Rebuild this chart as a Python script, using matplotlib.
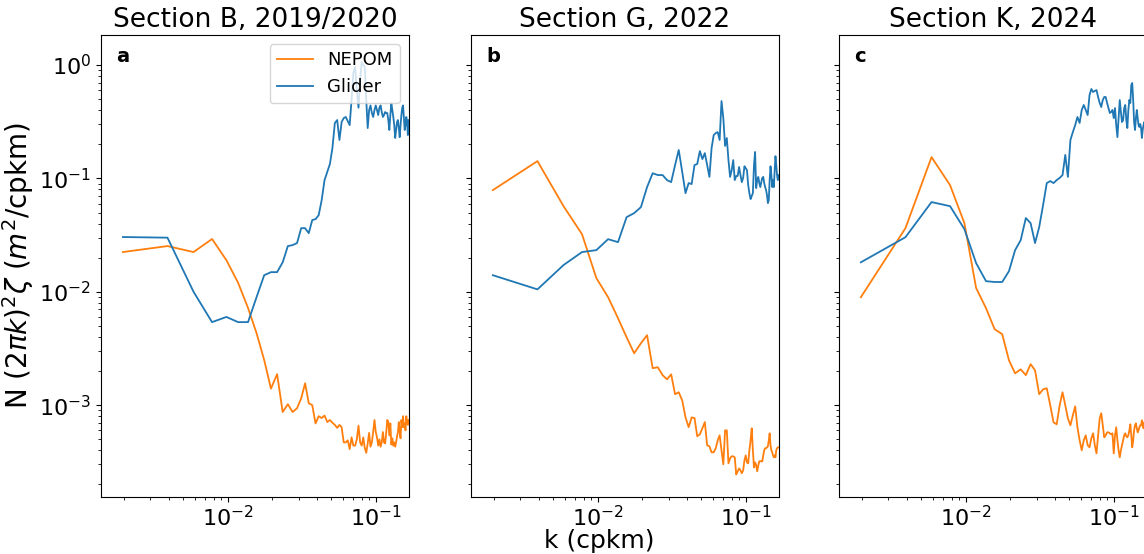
import numpy as np
import matplotlib
matplotlib.use('Agg')
import matplotlib.pyplot as plt

# wavenumber grid (cpkm), spectral spacing 1/512
k = np.arange(1, 86) / 512

tytuly = ['Section B, 2019/2020', 'Section G, 2022', 'Section K, 2024']
litery = ['a', 'b', 'c']

# Sekcja B
nepom_b = [0.0224, 0.0253, 0.0224, 0.0292, 0.019, 0.012, 0.0072, 0.0043, 0.0025, 0.0014,
           0.00188, 0.00087, 0.00102, 0.00087, 0.00094, 0.00115, 0.00156, 0.00104, 0.0010, 0.00069,
           0.0008, 0.00077, 0.00081, 0.00071, 0.00074, 0.0007, 0.00067, 0.00063, 0.00067, 0.00064,
           0.00047, 0.00047, 0.00049, 0.00041, 0.00052, 0.00044, 0.00044, 0.0005, 0.00066, 0.00047,
           0.00044, 0.00052, 0.00042, 0.00038, 0.00046, 0.00057, 0.00043, 0.00047, 0.00058, 0.00074,
           0.00058, 0.00052, 0.00044, 0.0005, 0.00043, 0.00047, 0.00058, 0.00047, 0.00046, 0.00057,
           0.00074, 0.00071, 0.00054, 0.00069, 0.00045, 0.00051, 0.00044, 0.00047, 0.00043, 0.00047,
           0.00053, 0.00058, 0.00071, 0.00058, 0.00051, 0.00074, 0.00064, 0.0008, 0.00064, 0.00069,
           0.0006, 0.0008, 0.00071, 0.00067, 0.00074]
glider_b = [0.0304, 0.0300, 0.010, 0.0054, 0.0060, 0.0054, 0.0054, 0.0090, 0.014, 0.0149,
            0.0149, 0.0182, 0.0253, 0.0258, 0.0269, 0.0364, 0.0364, 0.0329, 0.0429, 0.0437,
            0.0474, 0.0643, 0.0966, 0.114, 0.134, 0.185, 0.308, 0.327, 0.218, 0.314,
            0.34, 0.348, 0.32, 0.295, 0.49, 0.85, 0.96, 0.60, 0.42, 0.74,
            1.06, 1.0, 0.96, 0.49, 0.278, 0.40, 0.44, 0.377, 0.348, 0.40,
            0.44, 0.40, 0.362, 0.42, 0.44, 0.385, 0.348, 0.362, 0.385, 0.377,
            0.377, 0.327, 0.267, 0.362, 0.46, 0.40, 0.348, 0.295, 0.227, 0.267,
            0.314, 0.327, 0.278, 0.231, 0.295, 0.362, 0.42, 0.44, 0.34, 0.267,
            0.295, 0.348, 0.314, 0.241, 0.327]

# Sekcja G
nepom_g = [0.0788, 0.142, 0.0569, 0.0322, 0.0132, 0.00896, 0.00585, 0.00397, 0.00287, 0.00352,
           0.00414, 0.00212, 0.00216, 0.00184, 0.00169, 0.00187, 0.00125, 0.0013, 0.0011, 0.00078,
           0.00064, 0.00078, 0.00077, 0.000532, 0.000553, 0.000625, 0.00071, 0.000443, 0.000434, 0.000384,
           0.000384, 0.000417, 0.00049, 0.000542, 0.0004, 0.000301, 0.0006, 0.0006, 0.000307, 0.00034,
           0.000354, 0.000354, 0.000347, 0.000245, 0.000261, 0.000277, 0.000266, 0.000251, 0.000266, 0.000326,
           0.000361, 0.000313, 0.000307, 0.0004, 0.00049, 0.000625, 0.0004, 0.000283, 0.000313, 0.000295,
           0.000261, 0.000295, 0.00032, 0.00032, 0.00032, 0.00032, 0.000361, 0.0004, 0.000417, 0.000417,
           0.000425, 0.000434, 0.00049, 0.000565, 0.000443, 0.0004, 0.000384, 0.000361, 0.000347, 0.000361,
           0.000347, 0.0004, 0.000417, 0.000425, 0.000425]
glider_g = [0.0140, 0.0105, 0.0172, 0.0224, 0.0233, 0.0291, 0.0274, 0.0455, 0.0494, 0.0558,
            0.0838, 0.111, 0.107, 0.107, 0.0966, 0.0927, 0.131, 0.178, 0.114, 0.0741,
            0.0909, 0.0891, 0.131, 0.134, 0.174, 0.148, 0.167, 0.131, 0.103, 0.185,
            0.241, 0.251, 0.256, 0.218, 0.481, 0.34, 0.193, 0.227, 0.145, 0.103,
            0.118, 0.145, 0.0966, 0.105, 0.105, 0.126, 0.107, 0.0927, 0.101, 0.128,
            0.123, 0.118, 0.0873, 0.0741, 0.0657, 0.0698, 0.0741, 0.131, 0.171, 0.0821,
            0.0966, 0.103, 0.0909, 0.0838, 0.0927, 0.101, 0.103, 0.0909, 0.0838, 0.0788,
            0.0712, 0.0605, 0.0643, 0.0966, 0.128, 0.107, 0.0838, 0.0966, 0.0838, 0.118,
            0.157, 0.131, 0.107, 0.0966, 0.107]

# Sekcja K
nepom_k = [0.00896, 0.0364, 0.154, 0.0873, 0.0403, 0.0108, 0.00716, 0.00468, 0.00423, 0.00249,
           0.00191, 0.00207, 0.00184, 0.0023, 0.00203, 0.00125, 0.00138, 0.00141, 0.000998, 0.000706,
           0.000678, 0.000998, 0.0013, 0.000998, 0.000766, 0.000665, 0.000815, 0.000977, 0.000638, 0.00049,
           0.0004, 0.00049, 0.000542, 0.000443, 0.000425, 0.000511, 0.000565, 0.000443, 0.000376, 0.000542,
           0.000766, 0.000849, 0.000665, 0.000521, 0.000542, 0.000576, 0.000576, 0.000565, 0.000553, 0.000565,
           0.000376, 0.000542, 0.000638, 0.00049, 0.0004, 0.000347, 0.0004, 0.000443, 0.00049, 0.000542,
           0.000565, 0.000532, 0.000521, 0.000542, 0.0006, 0.000678, 0.000542, 0.000425, 0.00049, 0.0006,
           0.000665, 0.000692, 0.000625, 0.000576, 0.0006, 0.000638, 0.000665, 0.000665, 0.000736, 0.000678,
           0.000625, 0.000706, 0.000652, 0.000678, 0.000665]
glider_k = [0.0182, 0.0303, 0.0618, 0.0569, 0.0357, 0.0179, 0.0124, 0.0122, 0.0122, 0.0152,
            0.0233, 0.0285, 0.0447, 0.0403, 0.0269, 0.0372, 0.0581, 0.0909, 0.0947, 0.0909,
            0.0966, 0.101, 0.107, 0.161, 0.103, 0.218, 0.256, 0.295, 0.348, 0.308,
            0.401, 0.444, 0.401, 0.362, 0.543, 0.614, 0.578, 0.59, 0.601, 0.522,
            0.462, 0.426, 0.491, 0.522, 0.522, 0.462, 0.417, 0.377, 0.385, 0.401,
            0.340, 0.417, 0.295, 0.231, 0.340, 0.491, 0.385, 0.314, 0.327, 0.417,
            0.444, 0.327, 0.278, 0.401, 0.491, 0.462, 0.666, 0.694, 0.491, 0.314,
            0.267, 0.340, 0.401, 0.340, 0.295, 0.284, 0.302, 0.278, 0.227, 0.267,
            0.295, 0.314, 0.278, 0.295, 0.267]

nepom = [nepom_b, nepom_g, nepom_k]
glider = [glider_b, glider_g, glider_k]

fig = plt.figure(figsize=(11.44, 5.54), dpi=100)
lewe = [0.0883, 0.4117, 0.7334]
osie = []
for i in range(3):
    ax = fig.add_axes([lewe[i], 0.1029, 0.2692, 0.834], sharey=osie[0] if osie else None)
    osie.append(ax)
    ax.loglog(k, nepom[i], color='tab:orange', lw=1.3, label='NEPOM')
    ax.loglog(k, glider[i], color='tab:blue', lw=1.3, label='Glider')
    ax.set_xlim(1.39e-3, 0.167)
    ax.set_ylim(1.55e-4, 1.84)
    ax.set_title(tytuly[i], fontsize=19)
    ax.text(0.05, 0.975, litery[i], transform=ax.transAxes, fontsize=14,
            fontweight='bold', ha='left', va='top')
    ax.tick_params(axis='both', which='major', labelsize=16)
    ax.tick_params(axis='x', which='major', pad=2.5)
    if i > 0:
        ax.tick_params(axis='y', labelleft=False)

osie[0].set_ylabel(r'N $(2\pi k)^2\zeta$ ($m^2$/cpkm)', fontsize=20, labelpad=2)
osie[0].legend(loc='upper right', fontsize=13)
# figura byla przycieta z prawej, wiec etykieta osi x nie jest na srodku
fig.text(0.5236, 0.001, 'k (cpkm)', ha='center', va='bottom', fontsize=18)

fig.savefig('out.png', dpi=100)
